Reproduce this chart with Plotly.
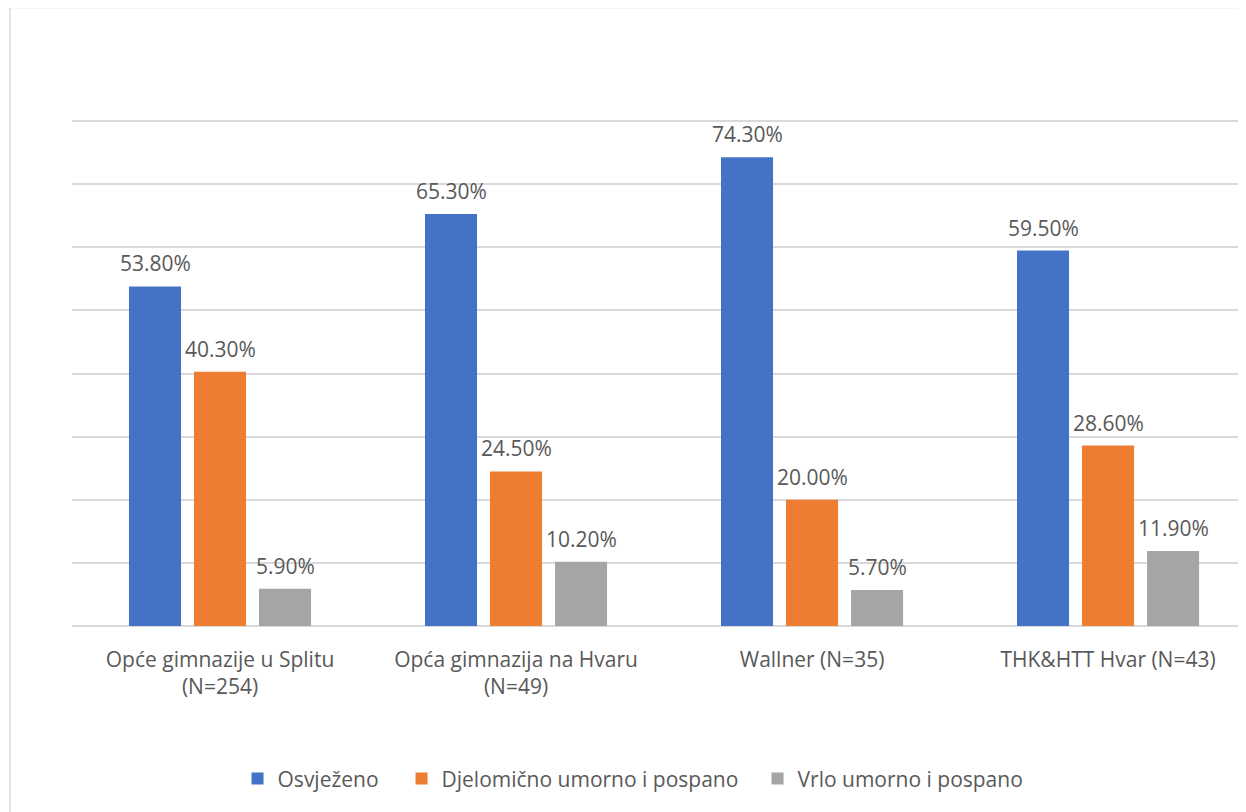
import plotly.graph_objects as go

categories = ["Opće gimnazije u Splitu<br>(N=254)", "Opća gimnazija na Hvaru<br>(N=49)",
              "Wallner (N=35)", "THK&HTT Hvar (N=43)"]
series_names = ["Osvježeno", "Djelomično umorno i pospano", "Vrlo umorno i pospano"]
osvjezeno = [53.8, 65.3, 74.3, 59.5]
djelomicno = [40.3, 24.5, 20.0, 28.6]
vrlo = [5.9, 10.2, 5.7, 11.9]
colors = ["#4472C4", "#ED7D31", "#A5A5A5"]

series_values = [osvjezeno, djelomicno, vrlo]
legend_widths = [119, 311, 225]
FONT = "Open Sans"
TXT = "#595959"

fig = go.Figure()
for name, vals, col, lw in zip(series_names, series_values, colors, legend_widths):
    fig.add_trace(go.Bar(x=categories, y=vals, name=name, legendwidth=lw,
                         marker=dict(color=col, line=dict(width=0))))

annotations = []
shifts = [-65, 0, 65]
for vals, sh in zip(series_values, shifts):
    for cat, v in zip(categories, vals):
        annotations.append(dict(x=cat, y=v, xref="x", yref="y", text=f"{v:.2f}%",
                                showarrow=False, xshift=sh, yshift=7, yanchor="bottom",
                                font=dict(family=FONT, size=21, color=TXT)))

fig.update_layout(
    width=1246, height=812,
    margin=dict(l=64, r=8, t=110, b=194),
    paper_bgcolor="white", plot_bgcolor="white",
    barmode="group", bargap=0.341, bargroupgap=0.2,
    font=dict(family=FONT, size=21, color=TXT),
    showlegend=True,
    legend=dict(orientation="h", x=0.141, xanchor="left", y=-0.301, yanchor="middle",
                font=dict(family=FONT, size=21, color=TXT), traceorder="normal"),
    annotations=annotations,
    shapes=[dict(type="rect", xref="paper", yref="paper", x0=-0.0528, x1=1.2, y0=-0.6, y1=1.2175,
                 line=dict(color="#D9D9D9", width=1.5), layer="below")],
)
fig.update_xaxes(range=[-0.5, 3.466], showgrid=False, ticks="", showline=False,
                 ticklabelstandoff=19, tickfont=dict(family=FONT, size=21, color=TXT))
fig.update_yaxes(range=[0, 80.5], dtick=10, showgrid=True, gridcolor="#D9D9D9", gridwidth=1.5,
                 zeroline=True, zerolinecolor="#D9D9D9", zerolinewidth=1.5,
                 showticklabels=False, ticks="")
fig.write_html("out.html")
